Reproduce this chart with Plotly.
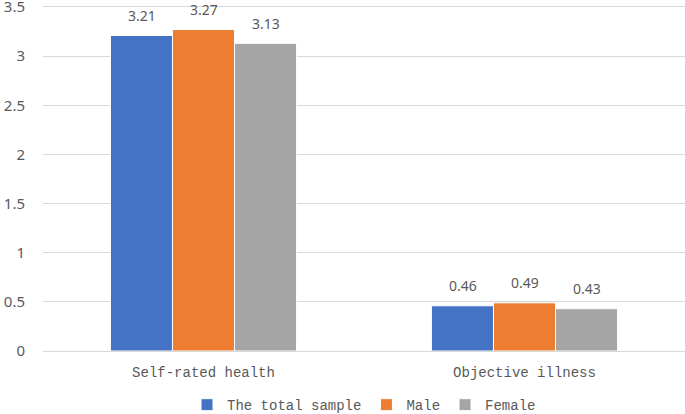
import plotly.graph_objects as go

categories = ["Self-rated health", "Objective illness"]
series_names = ["The total sample", "Male", "Female"]
series_values = [
    [3.21, 0.46],
    [3.27, 0.49],
    [3.13, 0.43],
]
colors = ["#4472C4", "#ED7D31", "#A5A5A5"]

fig = go.Figure()
for i, (name, vals, c) in enumerate(zip(series_names, series_values, colors)):
    fig.add_trace(go.Bar(
        x=categories, y=vals, name=name,
        marker=dict(color=c, line=dict(color="white", width=1)),
    ))
    # value labels above each bar
    for cat, v in zip(categories, vals):
        fig.add_annotation(
            x=cat, y=v, text=f"{v:.2f}", showarrow=False,
            xshift=(i - 1) * 62, yshift=20,
            font=dict(family="Noto Sans, sans-serif", size=14, color="#595959"),
        )

fig.update_layout(
    width=685, height=414,
    margin=dict(l=43, r=0, t=5, b=63, autoexpand=False),
    paper_bgcolor="white", plot_bgcolor="white",
    barmode="group", bargap=0.42, bargroupgap=0,
    font=dict(family="Noto Sans, sans-serif", color="#595959", size=14),
    yaxis=dict(range=[0, 3.52], tickvals=[0, 0.5, 1, 1.5, 2, 2.5, 3, 3.5],
               ticktext=["0", "0.5", "1", "1.5", "2", "2.5", "3", "3.5"],
               showgrid=True, gridcolor="#d9d9d9",
               gridwidth=1, zeroline=False, showline=False, automargin=False,
               ticks="outside", ticklen=14, tickcolor="white",
               ticklabeloverflow="allow",
               tickfont=dict(size=15, color="#595959")),
    xaxis=dict(showline=True, linecolor="#d9d9d9", linewidth=1, automargin=False,
               ticks="outside", ticklen=8, tickcolor="white",
               tickfont=dict(family="Liberation Mono, monospace", size=14, color="#595959")),
    legend=dict(orientation="h", x=0.5, xanchor="center", y=-0.11, yanchor="top",
                font=dict(family="Liberation Mono, monospace", size=14, color="#595959"),
                itemwidth=30, tracegroupgap=0),
)

# drop the browser's default body margin so the figure sits at the page corner
fig.write_html("out.html", config={"displayModeBar": False},
               post_script="document.body.style.margin='0';")
